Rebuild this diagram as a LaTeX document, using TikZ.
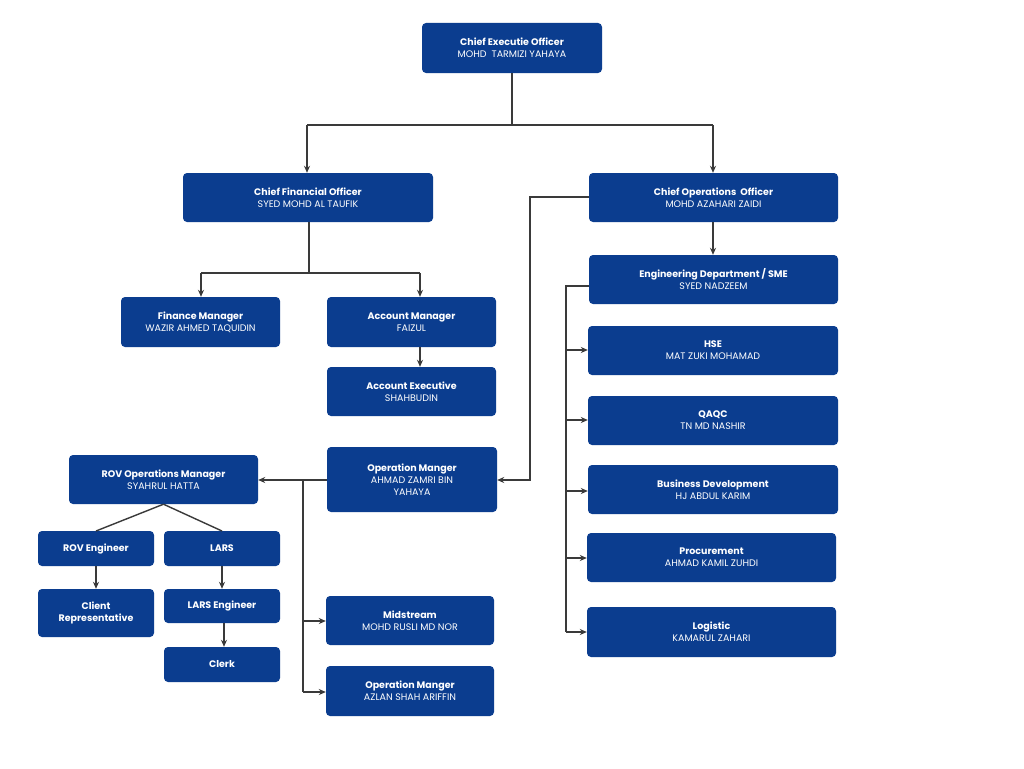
\documentclass[tikz,border=0pt]{standalone}
\usepackage{fontspec}
\setmainfont{Poppins}
\usetikzlibrary{arrows.meta}
\definecolor{bx}{HTML}{0B3D8F}
\definecolor{ln}{HTML}{3A3A3A}
\tikzset{
 box/.style={fill=bx,rounded corners=4pt,text=white,align=center,inner sep=0pt,font=\fontsize{9.5}{12}\selectfont},
 con/.style={draw=ln,line width=1.4pt},
 arr/.style={con,-{Stealth[length=7pt,width=6pt]}}
}
\newcommand{\bx}[6]{\node[box,minimum width={#4-#2},minimum height={#5-#3}] (#1) at ({(#2+#4)/2},{(#3+#5)/2}) {#6};}
\newcommand{\tl}[1]{\textbf{#1}}
\begin{document}
\begin{tikzpicture}[x=1pt,y=-1pt]
\useasboundingbox (0,0) rectangle (1024,768);
\fill[white] (0,0) rectangle (1024,768);
\bx{ceo}{422}{23}{602}{73}{\tl{Chief Executie Officer}\\MOHD\ \ TARMIZI YAHAYA}
\bx{cfo}{183}{173}{433}{222}{\tl{Chief Financial Officer}\\SYED MOHD AL TAUFIK}
\bx{coo}{589}{173}{838}{222}{\tl{Chief Operations\ \ Officer}\\MOHD AZAHARI ZAIDI}
\bx{fin}{121}{297}{280}{347}{\tl{Finance Manager}\\WAZIR AHMED TAQUIDIN}
\bx{acc}{327}{297}{496}{347}{\tl{Account Manager}\\FAIZUL}
\bx{ace}{327}{367}{496}{416}{\tl{Account Executive}\\SHAHBUDIN}
\bx{op1}{327}{447}{497}{512}{\tl{Operation Manger}\\AHMAD ZAMRI BIN\\YAHAYA}
\bx{rov}{69}{455}{258}{504}{\tl{ROV Operations Manager}\\SYAHRUL HATTA}
\bx{rove}{38}{531}{154}{566}{\tl{ROV Engineer}}
\bx{lars}{164}{531}{280}{566}{\tl{LARS}}
\bx{cli}{38}{589}{154}{637}{\tl{Client}\\\tl{Representative}}
\bx{larse}{164}{589}{280}{623}{\tl{LARS Engineer}}
\bx{clerk}{164}{647}{280}{682}{\tl{Clerk}}
\bx{mid}{326}{596}{494}{645}{\tl{Midstream}\\MOHD RUSLI MD NOR}
\bx{op2}{326}{666}{494}{716}{\tl{Operation Manger}\\AZLAN SHAH ARIFFIN}
\bx{eng}{589}{255}{838}{304}{\tl{Engineering Department / SME}\\SYED NADZEEM}
\bx{hse}{588}{326}{838}{375}{\tl{HSE}\\MAT ZUKI MOHAMAD}
\bx{qa}{588}{396}{838}{445}{\tl{QAQC}\\TN MD NASHIR}
\bx{biz}{588}{465}{838}{514}{\tl{Business Development}\\HJ ABDUL KARIM}
\bx{pro}{587}{533}{836}{582}{\tl{Procurement}\\AHMAD KAMIL ZUHDI}
\bx{log}{587}{607}{836}{657}{\tl{Logistic}\\KAMARUL ZAHARI}
% CEO
\draw[con] (ceo.south) -- (512,125) coordinate (c1);
\draw[con] (307,125) -- (713,125);
\draw[arr] (307,125) -- (cfo.north -| 307,0);
\draw[arr] (713,125) -- (coo.north -| 713,0);
% CFO
\draw[con] (cfo.south -| 309,0) -- (309,273);
\draw[con] (201,273) -- (420,273);
\draw[arr] (201,273) -- (fin.north -| 201,0);
\draw[arr] (420,273) -- (acc.north -| 420,0);
\draw[arr] (acc.south -| 420,0) -- (ace.north -| 420,0);
% COO
\draw[arr] (coo.south -| 713,0) -- (eng.north -| 713,0);
\draw[arr] (coo.west |- 0,197) -- (530,197) -- (530,480) -- (op1.east |- 0,480);
% Eng
\draw[con] (eng.west |- 0,286) -- (566,286) -- (566,632);
\foreach \n/\y in {hse/350,qa/420,biz/491,pro/558,log/632}
  \draw[arr] (566,\y) -- (\n.west |- 0,\y);
% Op mgr 1
\draw[arr] (op1.west |- 0,480) -- (rov.east |- 0,480);
\draw[con] (303,480) -- (303,692);
\draw[arr] (303,621) -- (mid.west |- 0,621);
\draw[arr] (303,692) -- (op2.west |- 0,692);
% ROV
\draw[con] (rov.south) -- (96,531);
\draw[con] (rov.south) -- (222,531);
\draw[arr] (rove.south -| 96,0) -- (cli.north -| 96,0);
\draw[arr] (lars.south -| 222,0) -- (larse.north -| 222,0);
\draw[arr] (larse.south -| 224,0) -- (clerk.north -| 224,0);
\end{tikzpicture}
\end{document}
